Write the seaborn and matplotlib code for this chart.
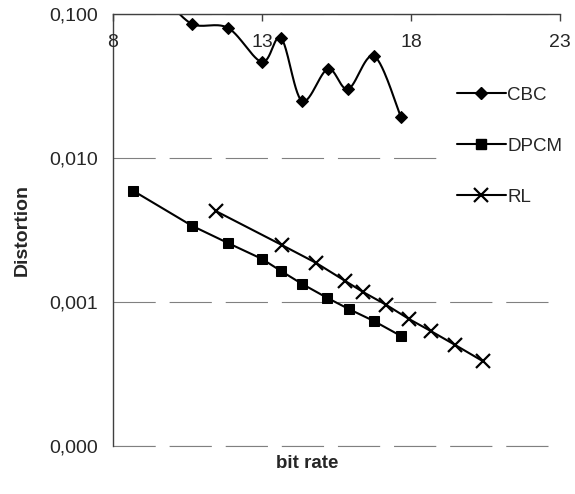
import numpy as np
import pandas as pd
import matplotlib
matplotlib.use("Agg")
import matplotlib.pyplot as plt
import seaborn as sns
from matplotlib.lines import Line2D

# data
cbc_rate = [9.75, 10.65, 11.86, 13.0, 13.64, 14.34, 15.21, 15.89, 16.76, 17.66]
cbc_dist = [0.13, 0.0853, 0.080, 0.0464, 0.068, 0.0249, 0.0415, 0.0301, 0.0511, 0.0193]
dpcm_rate = [8.67, 10.64, 11.87, 13.0, 13.64, 14.33, 15.18, 15.91, 16.75, 17.66]
dpcm_dist = [0.00593, 0.00339, 0.00256, 0.00199, 0.00164, 0.00134, 0.00107, 0.000894, 0.000738, 0.000581]
rl_rate = [11.46, 13.66, 14.81, 15.79, 16.40, 17.16, 17.93, 18.66, 19.48, 20.42]
rl_dist = [0.00427, 0.00249, 0.00187, 0.00140, 0.00117, 0.000957, 0.000762, 0.000629, 0.000503, 0.000387]
x_ticks = [8, 13, 18, 23]
y_ticks = [0.0001, 0.001, 0.01, 0.1]


def smooth(xs, ys, n=30):
    # Catmull-Rom curve in (x, log y) space, like Excel's smoothed line
    p = np.column_stack([xs, np.log10(ys)])
    p = np.vstack([p[0], p, p[-1]])
    out = []
    for i in range(1, len(p) - 2):
        p0, p1, p2, p3 = p[i - 1], p[i], p[i + 1], p[i + 2]
        t = np.linspace(0, 1, n)[:, None]
        seg = 0.5 * ((2 * p1) + (-p0 + p2) * t + (2 * p0 - 5 * p1 + 4 * p2 - p3) * t ** 2
                     + (-p0 + 3 * p1 - 3 * p2 + p3) * t ** 3)
        out.append(seg)
    out = np.vstack(out)
    return pd.DataFrame({"x": out[:, 0], "y": 10 ** out[:, 1]})


sns.set_style("white")
plt.rcParams["font.family"] = ["Liberation Sans", "DejaVu Sans"]

fig = plt.figure(figsize=(5.75, 4.94), dpi=100)
ax = fig.add_axes([0.1965, 0.0972, 0.974 - 0.1965, 0.9717 - 0.0972])

lw = 1.5
grid_style = dict(color="#808080", lw=0.8, linestyle=(0, (38, 12.5)))

cbc_curve = smooth(cbc_rate, cbc_dist)
sns.lineplot(data=cbc_curve, x="x", y="y", sort=False, color="black", lw=lw, ax=ax)
sns.lineplot(x=cbc_rate, y=cbc_dist, marker="D", markersize=6, linestyle="", color="black",
             markeredgecolor="black", ax=ax)
sns.lineplot(x=dpcm_rate, y=dpcm_dist, marker="s", markersize=7, color="black", lw=lw,
             markeredgecolor="black", ax=ax)
sns.lineplot(x=rl_rate, y=rl_dist, marker="x", markersize=10, markeredgewidth=1.6,
             markeredgecolor="black", color="black", lw=lw, ax=ax)

ax.set_yscale("log")
ax.set_ylim(0.0001, 0.1)
ax.set_xlim(8, 23)
ax.set_yticks(y_ticks)
ax.set_yticklabels([f"{v:.3f}".replace(".", ",") for v in y_ticks])
ax.minorticks_off()
ax.set_xticks(x_ticks)
ax.xaxis.set_ticks_position("top")
ax.tick_params(axis="x", direction="in", length=5, width=1, color="#404040",
               labeltop=False, labelbottom=False)
ax.tick_params(axis="y", direction="out", length=6, width=1, color="#404040",
               labelsize=14, pad=5)
for v in x_ticks:
    ax.text(v, 0.933, str(v), transform=ax.get_xaxis_transform(), ha="center",
            va="center", fontsize=14)

ax.yaxis.grid(True, **grid_style)
ax.axhline(y_ticks[0], clip_on=False, zorder=0.5, **grid_style)
ax.xaxis.grid(False)
for s in ["right", "bottom"]:
    ax.spines[s].set_visible(False)
for s in ["left", "top"]:
    ax.spines[s].set_color("#404040")
    ax.spines[s].set_linewidth(1)

ax.set_xlabel("bit rate", fontsize=13.5, fontweight="bold")
ax.xaxis.set_label_position("bottom")
ax.xaxis.set_label_coords((307 - 113) / (560 - 113), -0.022)
ax.set_ylabel("Distortion", fontsize=14, fontweight="bold")
ax.yaxis.set_label_coords(-0.183, 0.5)

handles = [
    Line2D([], [], color="black", lw=lw, marker="D", markersize=6),
    Line2D([], [], color="black", lw=lw, marker="s", markersize=7),
    Line2D([], [], color="black", lw=lw, marker="x", markersize=10, markeredgewidth=1.6),
]
leg = ax.legend(handles, ["CBC", "DPCM", "RL"], loc="upper left",
                bbox_to_anchor=(440 / 575, 1 - 70 / 494), bbox_transform=fig.transFigure,
                frameon=True, fontsize=13.5, handlelength=2.6, handletextpad=0.1,
                labelspacing=1.8, borderpad=0.4)
leg.get_frame().set_edgecolor("white")
leg.get_frame().set_facecolor("white")
leg.get_frame().set_alpha(1)

fig.savefig("out.png", dpi=100)
